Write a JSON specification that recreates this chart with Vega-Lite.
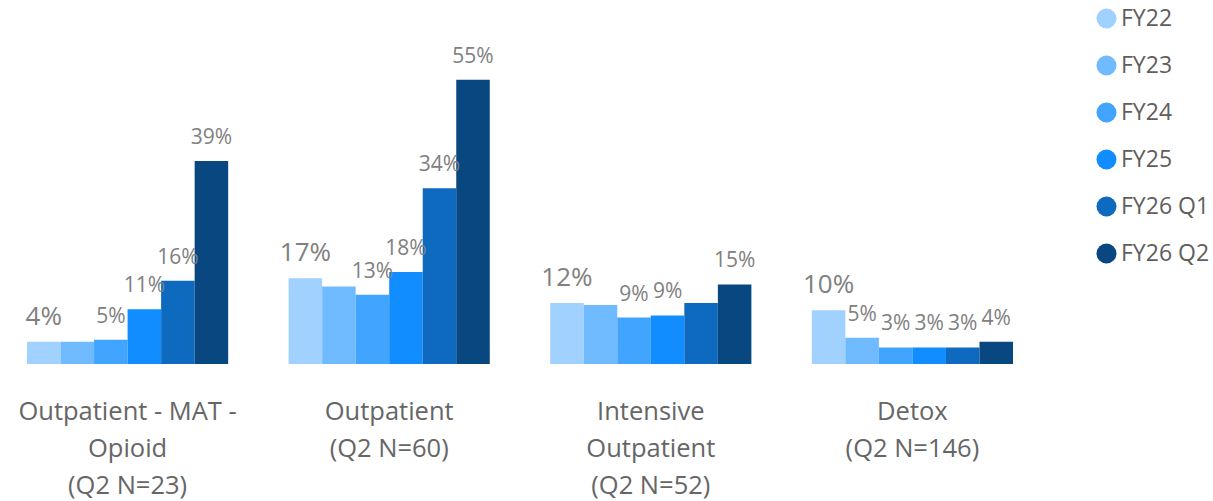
{
  "$schema": "https://vega.github.io/schema/vega-lite/v6.json",
  "width": 986,
  "height": 310,
  "autosize": {"type": "none"},
  "padding": {"left": 27, "top": 54, "right": 200, "bottom": 137},
  "config": {"view": {"stroke": null}, "font": "Open Sans"},
  "data": {
    "values": [
      {"category": "Outpatient - MAT - Opioid", "series": "FY22", "value": 0.043},
      {"category": "Outpatient - MAT - Opioid", "series": "FY23", "value": 0.043},
      {"category": "Outpatient - MAT - Opioid", "series": "FY24", "value": 0.047},
      {"category": "Outpatient - MAT - Opioid", "series": "FY25", "value": 0.106},
      {"category": "Outpatient - MAT - Opioid", "series": "FY26 Q1", "value": 0.161},
      {"category": "Outpatient - MAT - Opioid", "series": "FY26 Q2", "value": 0.393},
      {"category": "Outpatient", "series": "FY22", "value": 0.166},
      {"category": "Outpatient", "series": "FY23", "value": 0.150},
      {"category": "Outpatient", "series": "FY24", "value": 0.134},
      {"category": "Outpatient", "series": "FY25", "value": 0.178},
      {"category": "Outpatient", "series": "FY26 Q1", "value": 0.340},
      {"category": "Outpatient", "series": "FY26 Q2", "value": 0.550},
      {"category": "Intensive Outpatient", "series": "FY22", "value": 0.118},
      {"category": "Intensive Outpatient", "series": "FY23", "value": 0.114},
      {"category": "Intensive Outpatient", "series": "FY24", "value": 0.090},
      {"category": "Intensive Outpatient", "series": "FY25", "value": 0.094},
      {"category": "Intensive Outpatient", "series": "FY26 Q1", "value": 0.118},
      {"category": "Intensive Outpatient", "series": "FY26 Q2", "value": 0.154},
      {"category": "Detox", "series": "FY22", "value": 0.104},
      {"category": "Detox", "series": "FY23", "value": 0.051},
      {"category": "Detox", "series": "FY24", "value": 0.032},
      {"category": "Detox", "series": "FY25", "value": 0.032},
      {"category": "Detox", "series": "FY26 Q1", "value": 0.032},
      {"category": "Detox", "series": "FY26 Q2", "value": 0.043}
    ]
  },
  "encoding": {
    "x": {
      "field": "category",
      "type": "nominal",
      "sort": ["Outpatient - MAT - Opioid", "Outpatient", "Intensive Outpatient", "Detox"],
      "scale": {"paddingInner": 0.231, "paddingOuter": 0},
      "axis": {
        "title": null,
        "domain": false,
        "ticks": false,
        "labelAngle": 0,
        "labelPadding": 35,
        "labelBaseline": "top",
        "labelFontSize": 25.5,
        "labelColor": "#666666",
        "labelLineHeight": 37,
        "labelLimit": 0,
        "labelExpr": "datum.value == 'Outpatient - MAT - Opioid' ? ['Outpatient - MAT -', 'Opioid', '(Q2 N=23)'] : datum.value == 'Outpatient' ? ['Outpatient', '(Q2 N=60)'] : datum.value == 'Intensive Outpatient' ? ['Intensive', 'Outpatient', '(Q2 N=52)'] : ['Detox', '(Q2 N=146)']"
      }
    },
    "xOffset": {
      "field": "series",
      "type": "nominal",
      "sort": ["FY22", "FY23", "FY24", "FY25", "FY26 Q1", "FY26 Q2"]
    },
    "y": {
      "field": "value",
      "type": "quantitative",
      "scale": {"domain": [0, 0.6]},
      "axis": null
    }
  },
  "layer": [
    {
      "mark": {"type": "bar"},
      "encoding": {
        "color": {
          "field": "series",
          "type": "nominal",
          "scale": {
            "domain": ["FY22", "FY23", "FY24", "FY25", "FY26 Q1", "FY26 Q2"],
            "range": ["#A0D1FF", "#70BBFF", "#41A4FF", "#118DFF", "#0D6ABF", "#094780"]
          },
          "legend": {
            "orient": "none",
            "legendX": 1068,
            "legendY": -47,
            "title": null,
            "symbolType": "circle",
            "symbolSize": 400,
            "symbolStrokeWidth": 0,
            "labelFontSize": 23,
            "labelColor": "#605E5C",
            "labelOffset": 3,
            "rowPadding": 23
          }
        }
      }
    },
    {
      "transform": [
        {"filter": "!(datum.series === 'FY23' && datum.category !== 'Detox') && !(datum.series === 'FY26 Q1' && datum.category === 'Intensive Outpatient')"}
      ],
      "mark": {"type": "text", "baseline": "alphabetic", "dy": -17, "color": "#808080"},
      "encoding": {
        "text": {"field": "value", "type": "quantitative", "format": ".0%"},
        "size": {"condition": {"test": "datum.series === 'FY22'", "value": 26}, "value": 21}
      }
    }
  ]
}
